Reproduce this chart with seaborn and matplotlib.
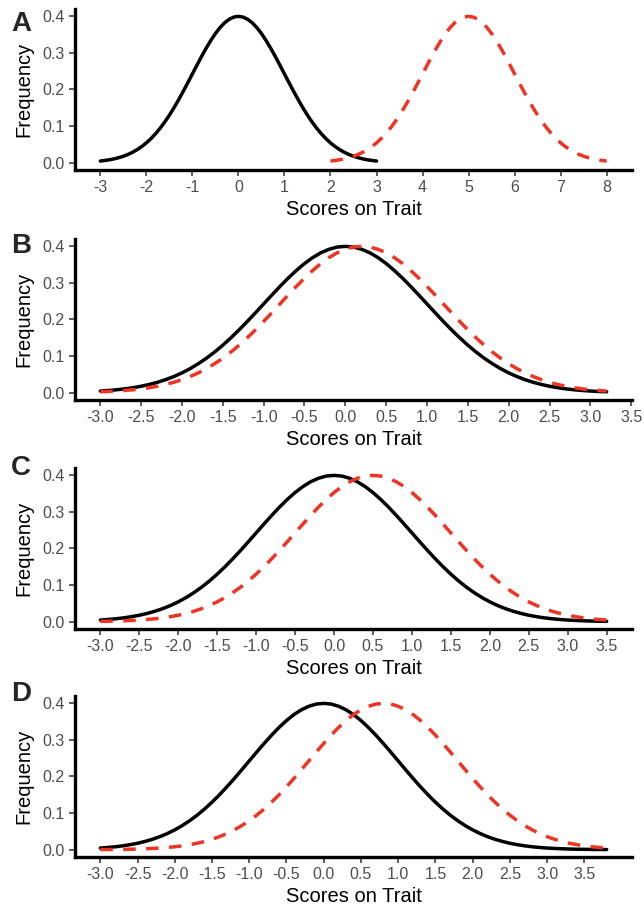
import numpy as np
import pandas as pd
import matplotlib
matplotlib.use("Agg")
import matplotlib.pyplot as plt
import seaborn as sns

# standard normal density read at 0.1 steps from 0 to 3.8 (right half; the curve is symmetric)
half_density = [0.3989, 0.3970, 0.3910, 0.3814, 0.3683, 0.3521, 0.3332, 0.3123, 0.2897, 0.2661,
                0.2420, 0.2179, 0.1942, 0.1714, 0.1497, 0.1295, 0.1109, 0.0940, 0.0790, 0.0656,
                0.0540, 0.0440, 0.0355, 0.0283, 0.0224, 0.0175, 0.0136, 0.0104, 0.0079, 0.0060,
                0.0044, 0.0033, 0.0024, 0.0017, 0.0012, 0.0009, 0.0006, 0.0004, 0.0003]
step = 0.1

panel_labels = ["A", "B", "C", "D"]
reference_means = [0.0, 0.0, 0.0, 0.0]
shifted_means = [5.0, 0.2, 0.5, 0.8]
reference_ranges = [(-3.0, 3.0), (-3.0, 3.2), (-3.0, 3.5), (-3.0, 3.8)]
shifted_ranges = [(2.0, 8.0), (-3.0, 3.2), (-3.0, 3.5), (-3.0, 3.8)]
x_ticks = [list(range(-3, 9)),
           [-3.0, -2.5, -2.0, -1.5, -1.0, -0.5, 0.0, 0.5, 1.0, 1.5, 2.0, 2.5, 3.0, 3.5],
           [-3.0, -2.5, -2.0, -1.5, -1.0, -0.5, 0.0, 0.5, 1.0, 1.5, 2.0, 2.5, 3.0, 3.5],
           [-3.0, -2.5, -2.0, -1.5, -1.0, -0.5, 0.0, 0.5, 1.0, 1.5, 2.0, 2.5, 3.0, 3.5]]
x_tick_fmt = ["{:.0f}", "{:.1f}", "{:.1f}", "{:.1f}"]
y_ticks = [0.0, 0.1, 0.2, 0.3, 0.4]

# full symmetric profile
n = len(half_density) - 1
offsets = np.arange(-n, n + 1) * step
profile = np.array(half_density[::-1] + half_density[1:])


def curve(mean, rng, name):
    x = np.round(mean + offsets, 2)
    keep = (x >= rng[0] - 1e-9) & (x <= rng[1] + 1e-9)
    return pd.DataFrame({"x": x[keep], "y": profile[keep], "curve": name})


sns.set_theme(style="ticks")
plt.rcParams["font.family"] = ["Liberation Sans", "DejaVu Sans"]

fig = plt.figure(figsize=(6.44, 9.09), dpi=100)
W, H = 644, 909
left, right = 75, 632
tops = [9, 239, 468, 696]
letter_tops = [11, 233, 455, 681]
ax_h = 161

for i, lab in enumerate(panel_labels):
    ax = fig.add_axes([left / W, 1 - (tops[i] + ax_h) / H, (right - left) / W, ax_h / H])
    df = pd.concat([curve(reference_means[i], reference_ranges[i], "ref"),
                    curve(shifted_means[i], shifted_ranges[i], "shift")])
    sns.lineplot(data=df, x="x", y="y", hue="curve", style="curve",
                 palette={"ref": "black", "shift": "#ef3424"},
                 dashes={"ref": "", "shift": (3.6, 3.0)},
                 sort=False, estimator=None, legend=False, linewidth=2.5, ax=ax)

    lo = min(reference_ranges[i][0], shifted_ranges[i][0])
    hi = max(reference_ranges[i][1], shifted_ranges[i][1])
    pad = (hi - lo) * 0.05
    ax.set_xlim(lo - pad, hi + pad)
    ax.set_ylim(-0.02, 0.419)
    ax.set_xticks(x_ticks[i])
    ax.set_xticklabels([x_tick_fmt[i].format(v) for v in x_ticks[i]])
    ax.set_yticks(y_ticks)
    ax.set_yticklabels(["{:.1f}".format(v) for v in y_ticks])
    ax.tick_params(axis="both", colors="#333333", labelcolor="#4d4d4d",
                   labelsize=11.5, length=4, width=1.1, pad=3.5)
    ax.set_xlabel("Scores on Trait", fontsize=14.5, color="black", labelpad=3)
    ax.set_ylabel("Frequency", fontsize=14.5, color="black", labelpad=6)
    sns.despine(ax=ax)
    for s in ["left", "bottom"]:
        ax.spines[s].set_linewidth(2.4)
        ax.spines[s].set_color("black")
    fig.text(11 / W, 1 - letter_tops[i] / H, lab, fontsize=20, fontweight="bold",
             ha="left", va="top")

fig.savefig("out.png", dpi=100, facecolor="white")
